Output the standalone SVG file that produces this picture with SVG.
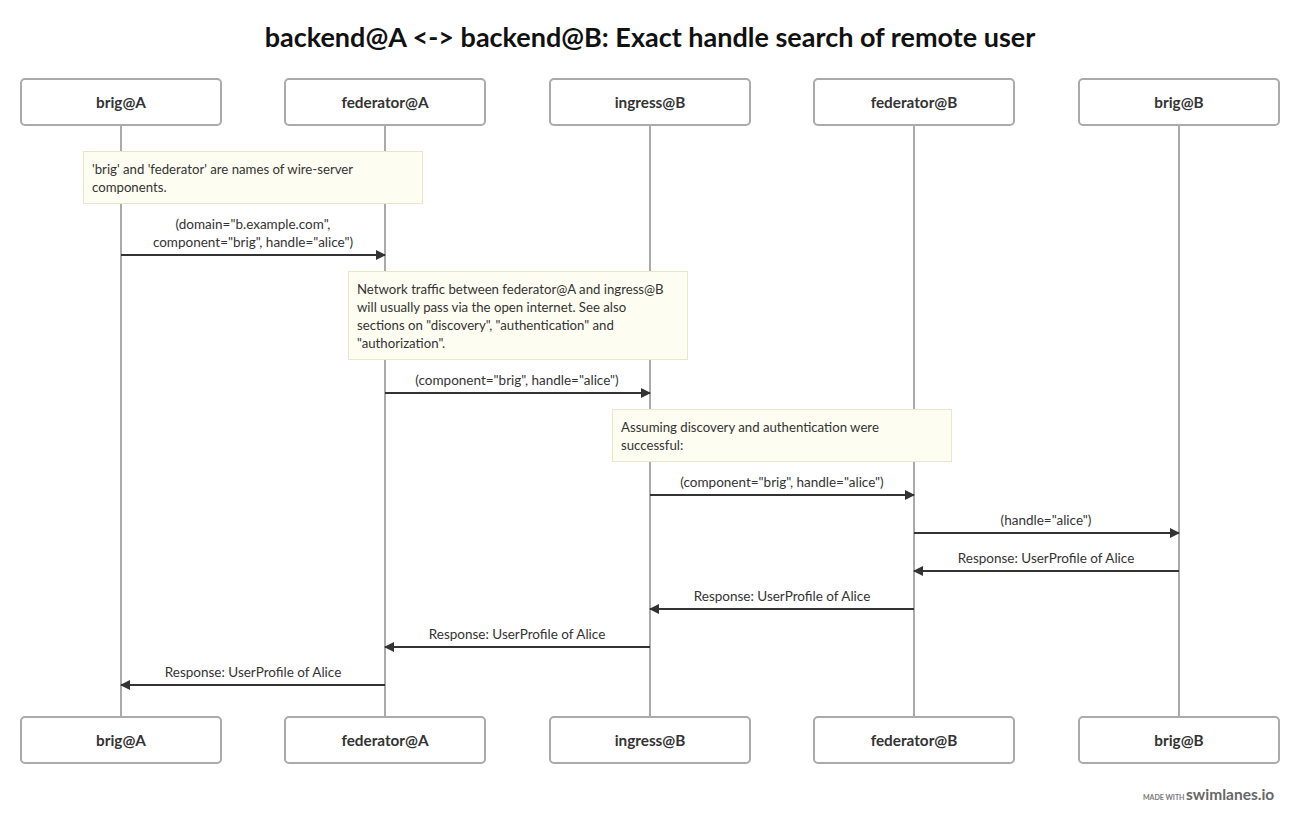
<svg xmlns="http://www.w3.org/2000/svg" width="1300" height="824" viewBox="0 0 1300 824">
<style>
.bg{fill:#ffffff}
.title{font-family:"Lato","Liberation Sans",sans-serif;font-weight:bold;font-size:27px;fill:#111;text-anchor:middle}
.actor rect{fill:#fff;stroke:#aaaaaa;stroke-width:2}
.actor text{font-family:"Lato","Liberation Sans",sans-serif;font-weight:bold;font-size:15.3px;fill:#333;text-anchor:middle}
.life{stroke:#aaaaaa;stroke-width:2}
.note rect{fill:#fefdf1;stroke:#e8e6cc;stroke-width:1}
.note text{font-family:"Lato","Liberation Sans",sans-serif;font-size:13.2px;fill:#333}
.msg line{stroke:#333;stroke-width:2}
.msg text{font-family:"Lato","Liberation Sans",sans-serif;font-size:13.5px;fill:#333;text-anchor:middle}
.foot1{font-family:"Lato","Liberation Sans",sans-serif;font-size:7px;fill:#777;font-weight:bold}
.foot2{font-family:"Lato","Liberation Sans",sans-serif;font-size:15.5px;fill:#666;font-weight:bold}
</style>
<defs>
<marker id="ah" markerWidth="10" markerHeight="10" refX="9" refY="5" orient="auto" markerUnits="userSpaceOnUse">
<path d="M0,0 L10,5 L0,10 Z" fill="#333"/>
</marker>
</defs>
<rect class="bg" x="0" y="0" width="1300" height="824"/>
<text class="title" x="650" y="47">backend@A &lt;-&gt; backend@B: Exact handle search of remote user</text>

<g id="lifelines">
<line class="life" x1="121" y1="125" x2="121" y2="717"/>
<line class="life" x1="385" y1="125" x2="385" y2="717"/>
<line class="life" x1="650" y1="125" x2="650" y2="717"/>
<line class="life" x1="914" y1="125" x2="914" y2="717"/>
<line class="life" x1="1179" y1="125" x2="1179" y2="717"/>
</g>

<g id="brigA" class="actor">
<rect x="21" y="79" width="200" height="46" rx="4"/><text x="121" y="107.5">brig@A</text>
<rect x="21" y="717" width="200" height="46" rx="4"/><text x="121" y="745.5">brig@A</text>
</g>
<g id="federatorA" class="actor">
<rect x="285" y="79" width="200" height="46" rx="4"/><text x="385" y="107.5">federator@A</text>
<rect x="285" y="717" width="200" height="46" rx="4"/><text x="385" y="745.5">federator@A</text>
</g>
<g id="ingressB" class="actor">
<rect x="550" y="79" width="200" height="46" rx="4"/><text x="650" y="107.5">ingress@B</text>
<rect x="550" y="717" width="200" height="46" rx="4"/><text x="650" y="745.5">ingress@B</text>
</g>
<g id="federatorB" class="actor">
<rect x="814" y="79" width="200" height="46" rx="4"/><text x="914" y="107.5">federator@B</text>
<rect x="814" y="717" width="200" height="46" rx="4"/><text x="914" y="745.5">federator@B</text>
</g>
<g id="brigB" class="actor">
<rect x="1079" y="79" width="200" height="46" rx="4"/><text x="1179" y="107.5">brig@B</text>
<rect x="1079" y="717" width="200" height="46" rx="4"/><text x="1179" y="745.5">brig@B</text>
</g>

<g id="note1" class="note">
<rect x="83.5" y="151.5" width="339" height="52"/>
<text x="92" y="173.5">'brig' and 'federator' are names of wire-server</text>
<text x="92" y="191.5">components.</text>
</g>
<g id="note2" class="note">
<rect x="348.5" y="271.5" width="339" height="88"/>
<text x="357" y="293.5">Network traffic between federator@A and ingress@B</text>
<text x="357" y="311.5">will usually pass via the open internet. See also</text>
<text x="357" y="329.5">sections on "discovery", "authentication" and</text>
<text x="357" y="347.5">"authorization".</text>
</g>
<g id="note3" class="note">
<rect x="612.5" y="409.5" width="339" height="52"/>
<text x="621" y="431.5">Assuming discovery and authentication were</text>
<text x="621" y="449.5">successful:</text>
</g>

<g id="connectors" class="msg">
<text x="253" y="228.5">(domain="b.example.com",</text>
<text x="253" y="246.5">component="brig", handle="alice")</text>
<line x1="121" y1="255" x2="385" y2="255" marker-end="url(#ah)"/>

<text x="517" y="384.5">(component="brig", handle="alice")</text>
<line x1="385" y1="393" x2="650" y2="393" marker-end="url(#ah)"/>

<text x="782" y="486.5">(component="brig", handle="alice")</text>
<line x1="650" y1="495" x2="914" y2="495" marker-end="url(#ah)"/>

<text x="1046" y="524.5">(handle="alice")</text>
<line x1="914" y1="533" x2="1179" y2="533" marker-end="url(#ah)"/>

<text x="1046" y="562.5">Response: UserProfile of Alice</text>
<line x1="1179" y1="571" x2="914" y2="571" marker-end="url(#ah)"/>

<text x="782" y="600.5">Response: UserProfile of Alice</text>
<line x1="914" y1="609" x2="650" y2="609" marker-end="url(#ah)"/>

<text x="517" y="638.5">Response: UserProfile of Alice</text>
<line x1="650" y1="647" x2="385" y2="647" marker-end="url(#ah)"/>

<text x="253" y="676.5">Response: UserProfile of Alice</text>
<line x1="385" y1="685" x2="121" y2="685" marker-end="url(#ah)"/>
</g>

<text class="foot1" x="1143" y="799.5">MADE WITH</text>
<text class="foot2" x="1186" y="800">swimlanes.io</text>
</svg>
